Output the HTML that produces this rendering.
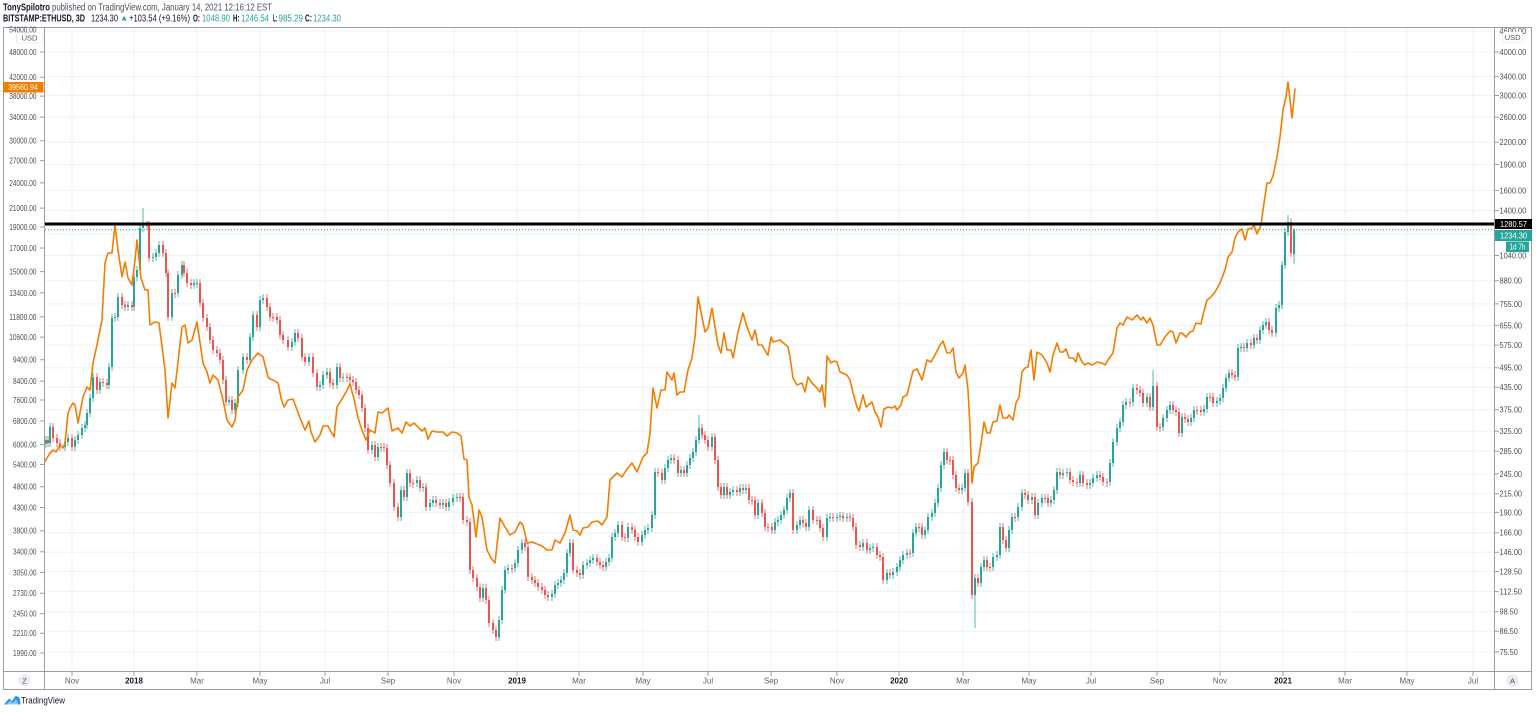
<!DOCTYPE html>
<html><head><meta charset="utf-8">
<style>
html,body{margin:0;padding:0;background:#fff;width:1536px;height:712px;overflow:hidden;}
svg{display:block;font-family:"Liberation Sans",Arial,sans-serif;}
</style></head>
<body>
<svg width="1536" height="712" viewBox="0 0 1536 712" xmlns="http://www.w3.org/2000/svg">
<rect width="1536" height="712" fill="#fff"/>
<defs><clipPath id="cp"><rect x="45" y="28" width="1449" height="643"/></clipPath></defs>

<!-- grid -->
<g stroke="#eef1f6" stroke-width="1">
<path d="M72 28V671M134 28V671M197 28V671M260 28V671M325 28V671M388 28V671M454 28V671M517 28V671M579 28V671M643 28V671M708 28V671M771 28V671M837 28V671M899 28V671M963 28V671M1029 28V671M1091 28V671M1157 28V671M1220 28V671M1283 28V671M1345 28V671M1407 28V671M1473 28V671"/>
<path d="M45 30.9H1494M45 52H1494M45 76.6H1494M45 95.5H1494M45 117.1H1494M45 142.3H1494M45 164.5H1494M45 190.4H1494M45 210.6H1494M45 233.9H1494M45 255.5H1494M45 280.8H1494M45 303.9H1494M45 325.4H1494M45 345.1H1494M45 367.7H1494M45 387.3H1494M45 409.7H1494M45 431.3H1494M45 451.1H1494M45 474H1494M45 493.7H1494M45 512.4H1494M45 532.8H1494M45 552.2H1494M45 571.5H1494M45 591.6H1494M45 611.7H1494M45 631.3H1494M45 651.9H1494"/>
</g>

<!-- candles -->
<g clip-path="url(#cp)" fill="none">
<path stroke="#26a69a" stroke-opacity="0.8" stroke-width="1" d="M46 436V448M50 423V447M65 438V451M68 434V446M75 436V451M78 431V444M82 424V439M85 421V432M87 409V429M90 394V417M93 373V402M100 378V394M109 363V389M112 314V371M115 313V322M118 293V321M128 301V311M134 273V311M137 266V281M140 224V274M143 208V232M153 253V262M156 249V261M159 241V257M172 289V321M178 271V297M182 261V279M194 279V289M197 279V288M229 396V406M235 399V414M238 366V407M243 353V374M250 333V364M253 311V341M260 296V331M263 294V304M292 338V351M295 329V346M309 353V366M320 381V391M323 371V389M327 368V379M337 363V389M343 373V382M372 441V454M378 443V461M401 486V521M407 469V501M417 476V487M423 483V492M430 499V511M433 496V507M443 499V509M449 498V511M453 494V506M457 493V502M483 584V602M499 616V641M502 586V624M505 566V594M508 564V574M515 559V572M518 546V567M522 539V554M552 590V601M555 581V598M558 579V589M561 576V587M564 569V584M567 549V577M570 539V557M583 561V579M587 559V569M590 556V567M593 554V564M606 558V571M609 554V566M612 533V562M615 529V541M618 521V537M628 523V542M642 531V546M645 526V539M648 524V534M652 511V532M655 468V519M665 464V484M668 456V472M671 454V464M681 466V477M687 461V477M690 454V469M693 448V462M696 436V456M699 415V444M712 433V451M724 483V499M730 488V499M733 486V496M740 484V496M746 484V494M758 499V519M775 518V534M778 516V526M781 511V524M784 506V519M787 494V514M790 489V502M797 521V534M800 516V529M809 506V531M827 514V541M830 513V522M837 513V522M840 512V521M847 513V522M863 539V551M870 544V554M873 543V552M887 569V584M893 568V579M897 563V576M900 556V571M903 551V564M907 549V559M913 529V557M916 523V537M925 526V539M928 513V534M932 509V521M935 499V517M938 484V507M941 461V492M944 448V469M962 484V494M965 469V492M975 574V628M981 563V587M984 556V571M993 553V571M997 551V561M1000 523V559M1009 526V552M1012 513V534M1018 503V521M1022 489V511M1032 493V504M1038 499V519M1042 494V507M1051 496V507M1054 486V504M1057 468V494M1063 469V479M1067 468V477M1080 471V487M1090 479V489M1093 474V487M1097 471V482M1110 459V486M1113 438V467M1117 424V446M1120 418V432M1123 401V426M1126 398V409M1133 384V406M1147 393V407M1153 370V411M1163 414V431M1167 406V422M1170 401V414M1182 413V437M1191 414V426M1194 406V422M1204 405V416M1207 393V413M1217 397V407M1220 394V405M1223 384V402M1226 374V392M1229 369V382M1238 344V381M1241 343V352M1247 339V352M1254 334V349M1260 326V344M1263 321V334M1266 318V329M1276 304V337M1279 301V312M1282 261V309M1285 228V269M1288 215V236M1294 228.2V263.7"/>
<path stroke="#ef5350" stroke-opacity="0.8" stroke-width="1" d="M48 436V447M53 423V442M57 434V447M60 439V451M72 434V451M97 373V394M103 378V387M107 379V389M122 293V309M125 301V311M132 301V311M147 221V230M149 221V262M163 241V257M166 249V277M168 269V321M175 289V298M184 261V277M187 269V287M191 279V289M200 279V307M203 299V322M207 314V331M210 323V344M213 336V354M217 346V357M220 349V364M223 356V384M226 376V406M232 396V414M247 353V364M257 311V331M267 294V311M270 303V321M273 313V322M277 313V324M280 316V339M283 331V344M288 336V351M298 329V342M302 334V361M305 353V366M313 353V377M317 369V391M330 368V387M333 379V389M340 363V382M347 373V382M350 373V384M353 376V386M356 378V394M359 386V399M362 391V412M365 404V432M368 424V454M375 441V461M381 443V452M384 443V452M387 444V469M390 461V487M394 479V511M398 503V521M404 486V501M410 469V487M413 479V488M420 476V492M426 483V511M436 496V507M440 499V509M446 499V511M460 493V502M463 493V524M467 516V526M470 518V574M473 566V582M477 574V591M480 583V602M486 584V604M489 596V627M493 619V634M496 626V641M512 564V573M525 539V551M528 543V581M532 573V584M535 576V587M538 579V591M542 583V594M545 586V599M548 591V601M573 539V574M577 566V577M580 569V579M597 554V566M600 558V569M603 561V571M622 521V541M625 533V542M632 523V534M635 526V541M638 533V546M658 468V477M662 469V484M674 454V464M678 456V477M684 466V477M702 424V439M705 431V444M708 436V451M715 433V464M718 456V491M721 483V499M727 483V499M737 486V496M743 484V494M749 484V504M752 496V505M755 496V519M762 499V517M765 509V531M768 523V532M772 523V534M793 489V534M803 516V527M806 519V531M813 506V524M817 516V525M820 516V532M823 524V541M833 513V522M843 512V522M850 513V522M853 514V531M856 523V549M860 541V551M867 539V554M877 543V559M880 551V561M883 553V584M890 569V579M910 549V558M919 523V532M922 523V539M947 448V464M950 456V465M953 456V479M956 471V492M959 484V494M968 469V506M972 498V599M978 574V587M987 556V571M990 563V572M1003 523V544M1006 536V552M1015 513V522M1025 489V499M1028 491V504M1035 493V519M1045 494V503M1048 494V507M1060 468V479M1070 468V484M1073 476V486M1077 478V487M1083 471V487M1087 479V489M1100 471V481M1103 473V486M1107 478V487M1130 398V407M1137 384V394M1140 386V397M1143 389V407M1150 393V411M1157 382V431M1160 423V432M1173 401V414M1176 406V416M1179 408V437M1185 413V423M1188 415V426M1197 406V415M1201 406V416M1210 393V402M1213 393V407M1232 369V379M1235 371V381M1244 343V352M1251 339V349M1257 334V344M1269 318V334M1272 326V337M1291 218V257"/>
<path stroke="#26a69a" stroke-width="2" d="M46 440V444M50 427V443M65 442V447M68 438V442M75 440V447M78 435V440M82 428V435M85 425V428M87 413V425M90 398V413M93 377V398M100 382V390M109 367V385M112 318V367M115 317V318M118 297V317M128 305V307M134 277V307M137 270V277M140 228V270M143 225V228M153 257V258M156 253V257M159 245V253M172 293V317M178 275V293M182 265V275M194 283V285M197 283V284M229 400V402M235 403V410M238 370V403M243 357V370M250 337V360M253 315V337M260 300V327M263 298V300M292 342V347M295 333V342M309 357V362M320 385V387M323 375V385M327 372V375M337 367V385M343 377V378M372 445V450M378 447V457M401 490V517M407 473V497M417 480V483M423 487V488M430 503V507M433 500V503M443 503V505M449 502V507M453 498V502M457 497V498M483 588V598M499 620V637M502 590V620M505 570V590M508 568V570M515 563V568M518 550V563M522 543V550M552 594V597M555 585V594M558 583V585M561 580V583M564 573V580M567 553V573M570 543V553M583 565V575M587 563V565M590 560V563M593 558V560M606 562V567M609 558V562M612 537V558M615 533V537M618 525V533M628 527V538M642 535V542M645 530V535M648 528V530M652 515V528M655 472V515M665 468V480M668 460V468M671 458V460M681 470V473M687 465V473M690 458V465M693 452V458M696 440V452M699 428V440M712 437V447M724 487V495M730 492V495M733 490V492M740 488V492M746 488V490M758 503V515M775 522V530M778 520V522M781 515V520M784 510V515M787 498V510M790 493V498M797 525V530M800 520V525M809 510V527M827 518V537M830 517V518M837 517V518M840 516V517M847 517V518M863 543V547M870 548V550M873 547V548M887 573V580M893 572V575M897 567V572M900 560V567M903 555V560M907 553V555M913 533V553M916 527V533M925 530V535M928 517V530M932 513V517M935 503V513M938 488V503M941 465V488M944 452V465M962 488V490M965 473V488M975 578V595M981 567V583M984 560V567M993 557V567M997 555V557M1000 527V555M1009 530V548M1012 517V530M1018 507V517M1022 493V507M1032 497V500M1038 503V515M1042 498V503M1051 500V503M1054 490V500M1057 472V490M1063 473V475M1067 472V473M1080 475V483M1090 483V485M1093 478V483M1097 475V478M1110 463V482M1113 442V463M1117 428V442M1120 422V428M1123 405V422M1126 402V405M1133 388V402M1147 397V403M1153 386V407M1163 418V427M1167 410V418M1170 405V410M1182 417V433M1191 418V422M1194 410V418M1204 409V412M1207 397V409M1217 401V403M1220 398V401M1223 388V398M1226 378V388M1229 373V378M1238 348V377M1241 347V348M1247 343V348M1254 338V345M1260 330V340M1263 325V330M1266 322V325M1276 308V333M1279 305V308M1282 265V305M1285 232V265M1288 222V232M1294 229.7V254.3"/>
<path stroke="#ef5350" stroke-width="2" d="M48 440V443M53 427V438M57 438V443M60 443V447M72 438V447M97 377V390M103 382V383M107 383V385M122 297V305M125 305V307M132 305V307M147 225V226M149 225V258M163 245V253M166 253V273M168 273V317M175 293V294M184 265V273M187 273V283M191 283V285M200 283V303M203 303V318M207 318V327M210 327V340M213 340V350M217 350V353M220 353V360M223 360V380M226 380V402M232 400V410M247 357V360M257 315V327M267 298V307M270 307V317M273 317V318M277 317V320M280 320V335M283 335V340M288 340V347M298 333V338M302 338V357M305 357V362M313 357V373M317 373V387M330 372V383M333 383V385M340 367V378M347 377V378M350 377V380M353 380V382M356 382V390M359 390V395M362 395V408M365 408V428M368 428V450M375 445V457M381 447V448M384 447V448M387 448V465M390 465V483M394 483V507M398 507V517M404 490V497M410 473V483M413 483V484M420 480V488M426 487V507M436 500V503M440 503V505M446 503V507M460 497V498M463 497V520M467 520V522M470 522V570M473 570V578M477 578V587M480 587V598M486 588V600M489 600V623M493 623V630M496 630V637M512 568V569M525 543V547M528 547V577M532 577V580M535 580V583M538 583V587M542 587V590M545 590V595M548 595V597M573 543V570M577 570V573M580 573V575M597 558V562M600 562V565M603 565V567M622 525V537M625 537V538M632 527V530M635 530V537M638 537V542M658 472V473M662 473V480M674 458V460M678 460V473M684 470V473M702 428V435M705 435V440M708 440V447M715 437V460M718 460V487M721 487V495M727 487V495M737 490V492M743 488V490M749 488V500M752 500V501M755 500V515M762 503V513M765 513V527M768 527V528M772 527V530M793 493V530M803 520V523M806 523V527M813 510V520M817 520V521M820 520V528M823 528V537M833 517V518M843 516V518M850 517V518M853 518V527M856 527V545M860 545V547M867 543V550M877 547V555M880 555V557M883 557V580M890 573V575M910 553V554M919 527V528M922 527V535M947 452V460M950 460V461M953 460V475M956 475V488M959 488V490M968 473V502M972 502V595M978 578V583M987 560V567M990 567V568M1003 527V540M1006 540V548M1015 517V518M1025 493V495M1028 495V500M1035 497V515M1045 498V499M1048 498V503M1060 472V475M1070 472V480M1073 480V482M1077 482V483M1083 475V483M1087 483V485M1100 475V477M1103 477V482M1107 482V483M1130 402V403M1137 388V390M1140 390V393M1143 393V403M1150 397V407M1157 386V427M1160 427V428M1173 405V410M1176 410V412M1179 412V433M1185 417V419M1188 419V422M1197 410V411M1201 410V412M1210 397V398M1213 397V403M1232 373V375M1235 375V377M1244 347V348M1251 343V345M1257 338V340M1269 322V330M1272 330V333M1291 222V253"/>
</g>

<!-- current price dotted line -->
<line x1="45" y1="229.7" x2="1494" y2="229.7" stroke="#26a69a" stroke-width="1" stroke-dasharray="1 2"/>

<g clip-path="url(#cp)">
<polyline fill="none" stroke="#f57c00" stroke-width="1.6" stroke-linejoin="round" points="44,463 47,458 50,453 53,450 56,452 60,445 63,448 65,443 68,413 70,408 73,403 75,405 78,423 83,397 87,387 90,390 93,363 97,345 102,320 105,263 108,253 112,253 115,225 118,250 122,277 125,262 128,278 132,285 135,260 137,240 141,278 145,290 148,290 150,325 155,322 159,323 165,370 168,418 172,383 175,388 182,327 185,325 188,343 192,340 197,322 203,363 207,372 210,383 213,375 218,380 223,400 227,420 232,427 235,420 238,397 243,390 247,370 252,360 258,353 263,357 268,377 270,379 273,380 278,383 281,398 284,407 288,400 293,399 300,418 305,430 309,421 311,432 315,442 320,435 323,426 328,426 330,430 334,437 337,407 342,399 346,392 350,384 354,399 358,418 362,430 366,440 370,430 375,433 378,412 382,413 388,408 392,431 398,428 402,433 406,422 410,426 414,423 418,427 422,431 425,428 428,439 432,431 437,432 443,432 447,436 452,432 457,433 461,436 464,459 467,460 469,497 472,505 476,537 479,510 482,517 487,550 491,558 495,563 500,518 505,527 510,535 515,532 520,522 523,525 527,543 532,542 537,544 542,546 547,550 552,550 555,540 560,543 565,533 570,515 573,530 577,531 580,535 583,528 588,527 592,522 598,521 602,525 607,517 610,480 617,473 622,477 627,469 632,463 637,472 643,457 647,453 650,433 653,388 657,408 661,390 665,390 667,372 672,380 674,373 677,395 680,392 684,392 688,370 692,358 695,337 698,297 702,317 705,332 708,328 712,308 715,327 718,345 721,353 724,333 727,350 731,350 733,358 738,332 743,313 747,327 752,340 755,330 758,345 762,345 767,354 768,355 771,337 773,342 780,340 788,347 790,357 793,378 797,385 802,383 805,392 808,377 812,383 817,388 820,392 822,385 825,407 827,356 831,363 834,361 837,362 840,372 847,375 850,380 853,393 857,407 859,411 863,395 866,407 872,402 875,412 878,417 881,427 884,409 888,407 892,408 895,406 897,410 901,405 903,397 907,395 910,383 913,371 917,369 922,380 927,360 931,362 935,355 940,345 943,341 947,353 950,353 953,348 956,372 959,378 963,373 965,365 968,390 970,427 972,483 974,467 978,463 982,437 984,422 987,433 990,433 993,422 997,421 1000,405 1003,418 1007,418 1009,415 1013,420 1016,403 1019,397 1022,372 1025,368 1028,367 1031,350 1034,380 1037,352 1042,355 1047,363 1050,372 1053,355 1057,343 1060,352 1063,352 1066,349 1069,358 1073,358 1076,362 1078,353 1082,362 1085,365 1088,363 1092,365 1097,362 1102,363 1105,365 1108,360 1113,353 1117,328 1120,323 1123,325 1127,317 1132,320 1137,315 1141,320 1143,317 1147,323 1150,318 1153,325 1157,345 1160,345 1165,337 1170,331 1173,332 1176,343 1180,333 1182,333 1186,337 1190,332 1193,331 1196,323 1201,324 1203,315 1207,300 1210,298 1215,292 1220,283 1225,270 1228,257 1232,252 1235,238 1238,232 1242,229 1245,240 1248,229 1252,228 1254,225 1257,234 1261,225 1263,210 1267,183 1270,183 1273,176 1277,157 1280,137 1283,110 1286,97 1288,82 1290,100 1292,118 1295,88.5"/>
</g>

<!-- black horizontal level -->
<rect x="45" y="222.5" width="1449" height="3" fill="#000"/>

<!-- frame -->
<g stroke="#9a9da6" stroke-width="1" fill="none">
<path d="M3 27.5H1532M3 671.5H1532M3 689.5H1532M3.5 27V690M44.5 27V690M1494.5 27V690M1531.5 27V690"/>
</g>

<!-- ticks -->
<g stroke="#9a9da6" stroke-width="1">
<path d="M40 52H44M40 77.2H44M40 96.1H44M40 117.1H44M40 140.7H44M40 160.6H44M40 182.9H44M40 208.1H44M40 227H44M40 248H44M40 271.6H44M40 292.9H44M40 316.9H44M40 337.1H44M40 359.8H44M40 381.1H44M40 400H44M40 421H44M40 444.6H44M40 464.5H44M40 486.7H44M40 507.5H44M40 530.8H44M40 551.8H44M40 572.4H44M40 593.3H44M40 613.7H44M40 633.2H44M40 653H44"/>
<path d="M1495 52H1499M1495 76.6H1499M1495 95.5H1499M1495 117.1H1499M1495 142.3H1499M1495 164.5H1499M1495 190.4H1499M1495 210.6H1499M1495 255.5H1499M1495 280.8H1499M1495 303.9H1499M1495 325.4H1499M1495 345.1H1499M1495 367.7H1499M1495 387.3H1499M1495 409.7H1499M1495 431.3H1499M1495 451.1H1499M1495 474H1499M1495 493.7H1499M1495 512.4H1499M1495 532.8H1499M1495 552.2H1499M1495 571.5H1499M1495 591.6H1499M1495 611.7H1499M1495 631.3H1499M1495 651.9H1499"/>
<path d="M72 672V676M134 672V676M197 672V676M260 672V676M325 672V676M388 672V676M454 672V676M517 672V676M579 672V676M643 672V676M708 672V676M771 672V676M837 672V676M899 672V676M963 672V676M1029 672V676M1091 672V676M1157 672V676M1220 672V676M1283 672V676M1345 672V676M1407 672V676M1473 672V676"/>
</g>

<!-- header -->
<text x="3" y="10.5" font-size="10" font-weight="bold" fill="#131722" textLength="47" lengthAdjust="spacingAndGlyphs">TonySpilotro</text>
<text x="52" y="10.5" font-size="10" fill="#4a4e59" textLength="220" lengthAdjust="spacingAndGlyphs">published on TradingView.com, January 14, 2021 12:16:12 EST</text>
<text x="3" y="21.5" font-size="10" font-weight="bold" fill="#131722" textLength="82" lengthAdjust="spacingAndGlyphs">BITSTAMP:ETHUSD, 3D</text>
<text x="91" y="21.5" font-size="10" fill="#131722" textLength="27" lengthAdjust="spacingAndGlyphs">1234.30</text>
<polygon points="121.8,20.5 124.2,15.8 126.6,20.5" fill="#26a69a"/>
<text x="129" y="21.5" font-size="10" fill="#131722" textLength="61" lengthAdjust="spacingAndGlyphs">+103.54 (+9.16%)</text>
<text x="193" y="21.5" font-size="10" font-weight="bold" fill="#131722" textLength="7" lengthAdjust="spacingAndGlyphs">O:</text>
<text x="202" y="21.5" font-size="10" fill="#26a69a" textLength="28" lengthAdjust="spacingAndGlyphs">1048.90</text>
<text x="233" y="21.5" font-size="10" font-weight="bold" fill="#131722" textLength="6.5" lengthAdjust="spacingAndGlyphs">H:</text>
<text x="241" y="21.5" font-size="10" fill="#26a69a" textLength="28" lengthAdjust="spacingAndGlyphs">1246.54</text>
<text x="273" y="21.5" font-size="10" font-weight="bold" fill="#131722" textLength="4.5" lengthAdjust="spacingAndGlyphs">L:</text>
<text x="278.5" y="21.5" font-size="10" fill="#26a69a" textLength="24.5" lengthAdjust="spacingAndGlyphs">985.29</text>
<text x="305" y="21.5" font-size="10" font-weight="bold" fill="#131722" textLength="7" lengthAdjust="spacingAndGlyphs">C:</text>
<text x="313" y="21.5" font-size="10" fill="#26a69a" textLength="28" lengthAdjust="spacingAndGlyphs">1234.30</text>

<!-- left axis labels -->
<g font-size="8" fill="#4a4e59" text-anchor="end">
<text x="36.5" y="32.7" textLength="27.2" lengthAdjust="spacingAndGlyphs">54000.00</text>
<text x="36.5" y="54.9" textLength="27.2" lengthAdjust="spacingAndGlyphs">48000.00</text>
<text x="36.5" y="80.1" textLength="27.2" lengthAdjust="spacingAndGlyphs">42000.00</text>
<text x="36.5" y="99" textLength="27.2" lengthAdjust="spacingAndGlyphs">38000.00</text>
<text x="36.5" y="120" textLength="27.2" lengthAdjust="spacingAndGlyphs">34000.00</text>
<text x="36.5" y="143.6" textLength="27.2" lengthAdjust="spacingAndGlyphs">30000.00</text>
<text x="36.5" y="163.5" textLength="27.2" lengthAdjust="spacingAndGlyphs">27000.00</text>
<text x="36.5" y="185.8" textLength="27.2" lengthAdjust="spacingAndGlyphs">24000.00</text>
<text x="36.5" y="211" textLength="27.2" lengthAdjust="spacingAndGlyphs">21000.00</text>
<text x="36.5" y="229.9" textLength="27.2" lengthAdjust="spacingAndGlyphs">19000.00</text>
<text x="36.5" y="250.9" textLength="27.2" lengthAdjust="spacingAndGlyphs">17000.00</text>
<text x="36.5" y="274.5" textLength="27.2" lengthAdjust="spacingAndGlyphs">15000.00</text>
<text x="36.5" y="295.8" textLength="27.2" lengthAdjust="spacingAndGlyphs">13400.00</text>
<text x="36.5" y="319.8" textLength="27.2" lengthAdjust="spacingAndGlyphs">11800.00</text>
<text x="36.5" y="340" textLength="27.2" lengthAdjust="spacingAndGlyphs">10600.00</text>
<text x="36.5" y="362.7" textLength="23.5" lengthAdjust="spacingAndGlyphs">9400.00</text>
<text x="36.5" y="384" textLength="23.5" lengthAdjust="spacingAndGlyphs">8400.00</text>
<text x="36.5" y="402.9" textLength="23.5" lengthAdjust="spacingAndGlyphs">7600.00</text>
<text x="36.5" y="423.9" textLength="23.5" lengthAdjust="spacingAndGlyphs">6800.00</text>
<text x="36.5" y="447.5" textLength="23.5" lengthAdjust="spacingAndGlyphs">6000.00</text>
<text x="36.5" y="467.4" textLength="23.5" lengthAdjust="spacingAndGlyphs">5400.00</text>
<text x="36.5" y="489.6" textLength="23.5" lengthAdjust="spacingAndGlyphs">4800.00</text>
<text x="36.5" y="510.4" textLength="23.5" lengthAdjust="spacingAndGlyphs">4300.00</text>
<text x="36.5" y="533.7" textLength="23.5" lengthAdjust="spacingAndGlyphs">3800.00</text>
<text x="36.5" y="554.7" textLength="23.5" lengthAdjust="spacingAndGlyphs">3400.00</text>
<text x="36.5" y="575.3" textLength="23.5" lengthAdjust="spacingAndGlyphs">3050.00</text>
<text x="36.5" y="596.2" textLength="23.5" lengthAdjust="spacingAndGlyphs">2730.00</text>
<text x="36.5" y="616.6" textLength="23.5" lengthAdjust="spacingAndGlyphs">2450.00</text>
<text x="36.5" y="636.1" textLength="23.5" lengthAdjust="spacingAndGlyphs">2210.00</text>
<text x="36.5" y="655.9" textLength="23.5" lengthAdjust="spacingAndGlyphs">1990.00</text>
</g>

<!-- right axis labels -->
<g font-size="8" fill="#4a4e59">
<text x="1499.5" y="33.8" textLength="26.7" lengthAdjust="spacingAndGlyphs">4600.00</text>
<text x="1499.5" y="54.9" textLength="26.7" lengthAdjust="spacingAndGlyphs">4000.00</text>
<text x="1499.5" y="79.5" textLength="26.7" lengthAdjust="spacingAndGlyphs">3400.00</text>
<text x="1499.5" y="98.4" textLength="26.7" lengthAdjust="spacingAndGlyphs">3000.00</text>
<text x="1499.5" y="120" textLength="26.7" lengthAdjust="spacingAndGlyphs">2600.00</text>
<text x="1499.5" y="145.2" textLength="26.7" lengthAdjust="spacingAndGlyphs">2200.00</text>
<text x="1499.5" y="167.4" textLength="26.7" lengthAdjust="spacingAndGlyphs">1900.00</text>
<text x="1499.5" y="193.3" textLength="26.7" lengthAdjust="spacingAndGlyphs">1600.00</text>
<text x="1499.5" y="213.5" textLength="26.7" lengthAdjust="spacingAndGlyphs">1400.00</text>
<text x="1499.5" y="258.4" textLength="26.7" lengthAdjust="spacingAndGlyphs">1040.00</text>
<text x="1499.5" y="283.7" textLength="22.5" lengthAdjust="spacingAndGlyphs">880.00</text>
<text x="1499.5" y="306.8" textLength="22.5" lengthAdjust="spacingAndGlyphs">755.00</text>
<text x="1499.5" y="328.3" textLength="22.5" lengthAdjust="spacingAndGlyphs">655.00</text>
<text x="1499.5" y="348" textLength="22.5" lengthAdjust="spacingAndGlyphs">575.00</text>
<text x="1499.5" y="370.6" textLength="22.5" lengthAdjust="spacingAndGlyphs">495.00</text>
<text x="1499.5" y="390.2" textLength="22.5" lengthAdjust="spacingAndGlyphs">435.00</text>
<text x="1499.5" y="412.6" textLength="22.5" lengthAdjust="spacingAndGlyphs">375.00</text>
<text x="1499.5" y="434.2" textLength="22.5" lengthAdjust="spacingAndGlyphs">325.00</text>
<text x="1499.5" y="454" textLength="22.5" lengthAdjust="spacingAndGlyphs">285.00</text>
<text x="1499.5" y="476.9" textLength="22.5" lengthAdjust="spacingAndGlyphs">245.00</text>
<text x="1499.5" y="496.6" textLength="22.5" lengthAdjust="spacingAndGlyphs">215.00</text>
<text x="1499.5" y="515.3" textLength="22.5" lengthAdjust="spacingAndGlyphs">190.00</text>
<text x="1499.5" y="535.7" textLength="22.5" lengthAdjust="spacingAndGlyphs">166.00</text>
<text x="1499.5" y="555.1" textLength="22.5" lengthAdjust="spacingAndGlyphs">146.00</text>
<text x="1499.5" y="574.4" textLength="22.5" lengthAdjust="spacingAndGlyphs">128.50</text>
<text x="1499.5" y="594.5" textLength="22.5" lengthAdjust="spacingAndGlyphs">112.50</text>
<text x="1499.5" y="614.6" textLength="18.3" lengthAdjust="spacingAndGlyphs">98.50</text>
<text x="1499.5" y="634.2" textLength="18.3" lengthAdjust="spacingAndGlyphs">86.50</text>
<text x="1499.5" y="654.8" textLength="18.3" lengthAdjust="spacingAndGlyphs">75.50</text>
</g>

<!-- USD boxes -->
<rect x="16.5" y="32.5" width="26" height="10.5" rx="2" fill="#fff" stroke="#cfd3db" stroke-width="0.8" stroke-dasharray="1 1"/>
<text x="29.5" y="40.6" font-size="7.5" fill="#4a4e59" text-anchor="middle">USD</text>
<rect x="1502.5" y="32" width="20.5" height="10.5" rx="2" fill="#fff" stroke="#cfd3db" stroke-width="0.8" stroke-dasharray="1 1"/>
<text x="1512.7" y="40.1" font-size="7.5" fill="#4a4e59" text-anchor="middle">USD</text>

<!-- orange label left -->
<rect x="3" y="82" width="40.5" height="10.5" fill="#f57c00"/>
<text x="23" y="90.2" font-size="8" fill="#fff" text-anchor="middle" textLength="30" lengthAdjust="spacingAndGlyphs">39560.94</text>

<!-- right labels -->
<rect x="1495" y="219" width="37" height="10" fill="#000"/>
<text x="1513.5" y="227" font-size="8" fill="#fff" text-anchor="middle" textLength="27" lengthAdjust="spacingAndGlyphs">1280.57</text>
<rect x="1495" y="230" width="37" height="11" fill="#26a69a"/>
<text x="1513.5" y="238.5" font-size="8" fill="#fff" text-anchor="middle" textLength="27" lengthAdjust="spacingAndGlyphs">1234.30</text>
<rect x="1506" y="241.5" width="23" height="10.5" fill="#26a69a"/>
<text x="1517.5" y="249.7" font-size="8" fill="#fff" text-anchor="middle" textLength="16" lengthAdjust="spacingAndGlyphs">1d 7h</text>

<!-- time axis labels -->
<g font-size="8" fill="#5d606b" text-anchor="middle">
<text x="72" y="683.5">Nov</text>
<text x="134" y="683.5" font-weight="bold" fill="#131722">2018</text>
<text x="197" y="683.5">Mar</text>
<text x="260" y="683.5">May</text>
<text x="325" y="683.5">Jul</text>
<text x="388" y="683.5">Sep</text>
<text x="454" y="683.5">Nov</text>
<text x="517" y="683.5" font-weight="bold" fill="#131722">2019</text>
<text x="579" y="683.5">Mar</text>
<text x="643" y="683.5">May</text>
<text x="708" y="683.5">Jul</text>
<text x="771" y="683.5">Sep</text>
<text x="837" y="683.5">Nov</text>
<text x="899" y="683.5" font-weight="bold" fill="#131722">2020</text>
<text x="963" y="683.5">Mar</text>
<text x="1029" y="683.5">May</text>
<text x="1091" y="683.5">Jul</text>
<text x="1157" y="683.5">Sep</text>
<text x="1220" y="683.5">Nov</text>
<text x="1283" y="683.5" font-weight="bold" fill="#131722">2021</text>
<text x="1345" y="683.5">Mar</text>
<text x="1407" y="683.5">May</text>
<text x="1473" y="683.5">Jul</text>
</g>

<!-- Z / A buttons -->
<circle cx="24.5" cy="680.5" r="6" fill="#e8ecf2"/>
<text x="24.5" y="683.3" font-size="7.5" fill="#4a4e59" text-anchor="middle">Z</text>
<circle cx="1512.5" cy="680.5" r="6" fill="#e8ecf2"/>
<text x="1512.5" y="683.3" font-size="7.5" fill="#4a4e59" text-anchor="middle">A</text>

<!-- TradingView logo -->
<path d="M4 704.5 L9 698.5 L12 701 L15.5 696 Q18.5 696 19.8 699 L20.5 704.5 Z" fill="#2196f3"/>
<path d="M6.5 704.5 L10 700.8 L13 703 L16 699 L18.5 704.5 Z" fill="#8fcaf7"/>
<text x="21" y="703.5" font-size="9" fill="#131722" textLength="44" lengthAdjust="spacingAndGlyphs">TradingView</text>
</svg>
</body></html>
